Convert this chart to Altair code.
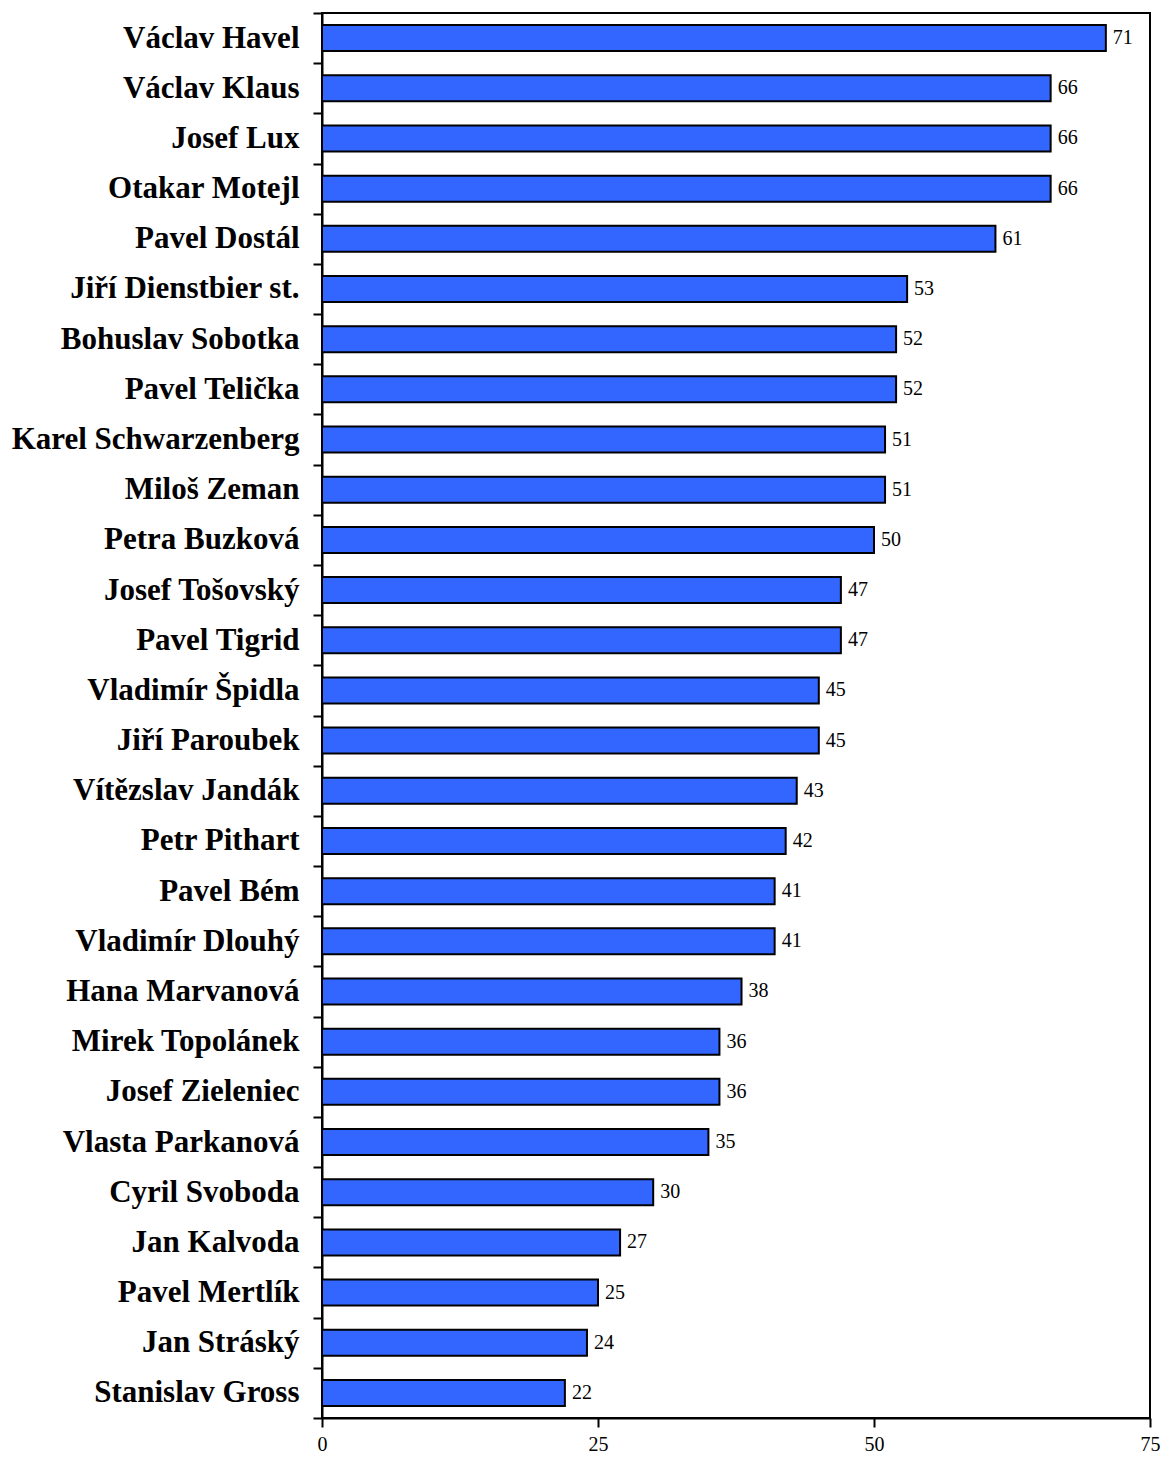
import altair as alt
import pandas as pd

names = ["Václav Havel", "Václav Klaus", "Josef Lux", "Otakar Motejl", "Pavel Dostál",
         "Jiří Dienstbier st.", "Bohuslav Sobotka", "Pavel Telička", "Karel Schwarzenberg",
         "Miloš Zeman", "Petra Buzková", "Josef Tošovský", "Pavel Tigrid", "Vladimír Špidla",
         "Jiří Paroubek", "Vítězslav Jandák", "Petr Pithart", "Pavel Bém", "Vladimír Dlouhý",
         "Hana Marvanová", "Mirek Topolánek", "Josef Zieleniec", "Vlasta Parkanová",
         "Cyril Svoboda", "Jan Kalvoda", "Pavel Mertlík", "Jan Stráský", "Stanislav Gross"]
values = [71, 66, 66, 66, 61, 53, 52, 52, 51, 51, 50, 47, 47, 45, 45, 43, 42, 41, 41,
          38, 36, 36, 35, 30, 27, 25, 24, 22]
x_ticks = [0, 25, 50, 75]

df = pd.DataFrame({"name": names, "value": values})

y_enc = alt.Y("name:N", sort=names, title=None,
              scale=alt.Scale(paddingInner=0, paddingOuter=0),
              axis=alt.Axis(tickBand="extent", labelFont="Liberation Serif",
                            labelFontSize=31, labelFontWeight="bold", labelColor="black",
                            labelPadding=14, tickSize=9, tickWidth=2, tickColor="black",
                            domainColor="black", domainWidth=2, labelLimit=400))
x_enc = alt.X("value:Q", title=None,
              scale=alt.Scale(domain=[0, 75], nice=False),
              axis=alt.Axis(values=x_ticks, grid=False, labelFont="Liberation Serif",
                            labelFontSize=20, labelColor="black", labelPadding=7,
                            labelFlush=False,
                            tickSize=9, tickWidth=2, tickColor="black",
                            domainColor="black", domainWidth=2))

bars = alt.Chart(df).mark_bar(color="#3366FF", stroke="black", strokeWidth=2, size=26).encode(
    y=y_enc, x=x_enc)
text = alt.Chart(df).mark_text(align="left", dx=7, font="Liberation Serif", fontSize=20,
                               color="black").encode(
    y=alt.Y("name:N", sort=names), x="value:Q", text="value:Q")

chart = (bars + text).properties(
    width=828, height=1405,
    background="white",
    autosize=alt.AutoSizeParams(type="none"),
    padding={"left": 314, "top": 5, "right": 11, "bottom": 40},
).configure_view(stroke="black", strokeWidth=2)

chart.save("out.html", embed_options={"renderer": "svg", "actions": False})
